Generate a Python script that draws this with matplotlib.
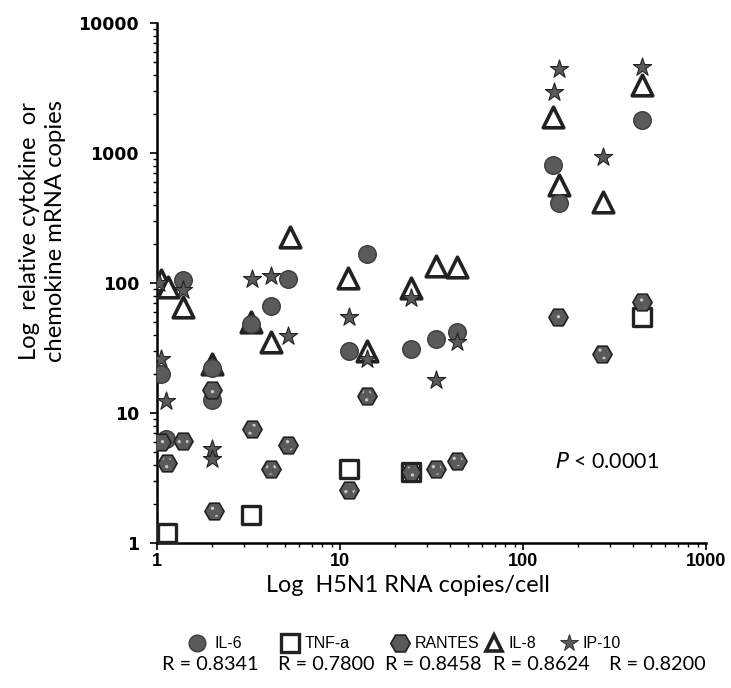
import matplotlib.pyplot as plt
from matplotlib.lines import Line2D

# values (x: H5N1 RNA copies/cell, y: relative mRNA copies)
il6_x = [1.05, 1.12, 1.38, 2.0, 2.0, 3.25, 4.2, 5.2, 11.2, 14.0, 24.5, 33.5, 43.6, 146, 157, 447]
il6_y = [20, 6.3, 105, 12.5, 22, 48, 67, 107, 30, 167, 31, 37, 42, 810, 415, 1780]

tnf_x = [1.14, 3.25, 11.2, 24.5, 447]
tnf_y = [1.2, 1.65, 3.7, 3.5, 55]

rantes_x = [1.05, 1.13, 1.38, 2.0, 2.05, 3.3, 4.2, 5.2, 11.2, 14.0, 24.5, 33.5, 43.6, 155, 270, 447]
rantes_y = [6.0, 4.1, 6.1, 15, 1.75, 7.5, 3.7, 5.7, 2.55, 13.5, 3.5, 3.7, 4.3, 55, 28.5, 71]

il8_x = [1.05, 1.15, 1.38, 2.0, 3.25, 4.2, 5.3, 11.1, 14.0, 24.5, 33.5, 43.6, 145, 158, 272, 447]
il8_y = [105, 93, 65, 24, 50, 35, 225, 110, 30, 92, 135, 132, 1880, 570, 420, 3350]

ip10_x = [1.02, 1.05, 1.12, 1.38, 2.0, 2.0, 3.3, 4.2, 5.2, 11.2, 14.0, 24.5, 33.5, 43.6, 148, 157, 272, 447]
ip10_y = [100, 26, 12.3, 88, 5.3, 4.4, 108, 113, 39, 55, 26, 76, 18, 35, 2950, 4400, 930, 4550]

names = ['IL-6', 'TNF-a', 'RANTES', 'IL-8', 'IP-10']
r_values = ['R = 0.8341', 'R = 0.7800', 'R = 0.8458', 'R = 0.8624', 'R = 0.8200']

x_ticks = [1, 10, 100, 1000]
y_ticks = [1, 10, 100, 1000, 10000]

GRAY = '#5a5a5a'
DARK = '#222222'
W, H = 731, 688

plt.rcParams['hatch.linewidth'] = 1.2

fig = plt.figure(figsize=(7.31, 6.88), dpi=100)
ax = fig.add_axes([0.2148, 0.2108, 0.751, 0.7558])

# drawing order follows the overlaps seen in the picture
ax.scatter(tnf_x, tnf_y, marker='s', s=165, facecolor='white', edgecolor=DARK, linewidth=2.4, zorder=3)
ax.scatter(il8_x, il8_y, marker='^', s=220, facecolor='white', edgecolor=DARK, linewidth=2.6, zorder=4)
ax.scatter(il6_x, il6_y, marker='o', s=160, facecolor=GRAY, edgecolor='#3c3c3c', linewidth=1.0, zorder=5)
ax.scatter(rantes_x, rantes_y, marker='H', s=190, facecolor=GRAY, edgecolor=DARK, linewidth=1.2, zorder=6)
ax.scatter(rantes_x, rantes_y, marker='H', s=80, facecolor='none', edgecolor='#c8c8c8', hatch='..',
           linewidth=0, zorder=6.5)
ax.scatter(ip10_x, ip10_y, marker='*', s=190, facecolor=GRAY, edgecolor=DARK, linewidth=0.8, zorder=7)

ax.set_xscale('log')
ax.set_yscale('log')
ax.set_xlim(1, 1000)
ax.set_ylim(1, 10000)
ax.set_xticks(x_ticks)
ax.set_xticklabels([str(t) for t in x_ticks], fontfamily='Liberation Sans', fontweight='bold', fontsize=13)
ax.set_yticks(y_ticks)
ax.set_yticklabels([str(t) for t in y_ticks], fontfamily='DejaVu Sans', fontweight='bold', fontsize=12.5)
ax.tick_params(axis='both', which='major', direction='out', length=5, width=1.2, colors='black')
ax.tick_params(axis='both', which='minor', direction='out', length=3, width=1.0)
ax.tick_params(axis='x', pad=2)
ax.tick_params(axis='y', pad=8)
for side in ['top', 'right']:
    ax.spines[side].set_visible(False)
for side in ['left', 'bottom']:
    ax.spines[side].set_linewidth(1.8)

# axis titles (placed as in the original, slightly off-centre)
fig.text(408 / W, 1 - 585 / H, 'Log  H5N1 RNA copies/cell', ha='center', va='center',
         fontfamily='Lato', fontsize=16.8)
fig.text(30 / W, 1 - 231 / H, 'Log  relative cytokine  or', rotation=90, ha='center', va='center',
         fontfamily='Lato', fontsize=17.2)
fig.text(55 / W, 1 - 231 / H, 'chemokine mRNA copies', rotation=90, ha='center', va='center',
         fontfamily='Lato', fontsize=17.2)

ax.text(0.725, 0.145, r'$\it{P}$ < 0.0001', transform=ax.transAxes, fontfamily='Lato', fontsize=15.5)

# legend: marker + name on first row, R value centred underneath
keys = [
    dict(marker='o', markersize=12, markerfacecolor=GRAY, markeredgecolor='#3c3c3c', markeredgewidth=1.0),
    dict(marker='s', markersize=13, markerfacecolor='white', markeredgecolor=DARK, markeredgewidth=2.4),
    dict(marker='H', markersize=14, markerfacecolor=GRAY, markeredgecolor=DARK, markeredgewidth=1.2),
    dict(marker='^', markersize=12, markerfacecolor='white', markeredgecolor=DARK, markeredgewidth=2.6),
    dict(marker='*', markersize=13, markerfacecolor=GRAY, markeredgecolor=DARK, markeredgewidth=0.6),
]
key_x = [197, 290, 400, 494, 569]
name_x = [214, 305, 415, 509, 583]
r_x = [210, 326, 433, 541, 657]
row1_y = 1 - 643 / H
row2_y = 1 - 664 / H
for k, kx, nx, name, rx, rv in zip(keys, key_x, name_x, names, r_x, r_values):
    fig.add_artist(Line2D([kx / W], [row1_y], linestyle='none', transform=fig.transFigure, **k))
    fig.text(nx / W, row1_y, name, ha='left', va='center', fontfamily='Liberation Sans', fontsize=11.5)
    fig.text(rx / W, row2_y, rv, ha='center', va='center', fontfamily='Lato', fontsize=14.3)

fig.savefig('out.png', dpi=100, facecolor='white')
